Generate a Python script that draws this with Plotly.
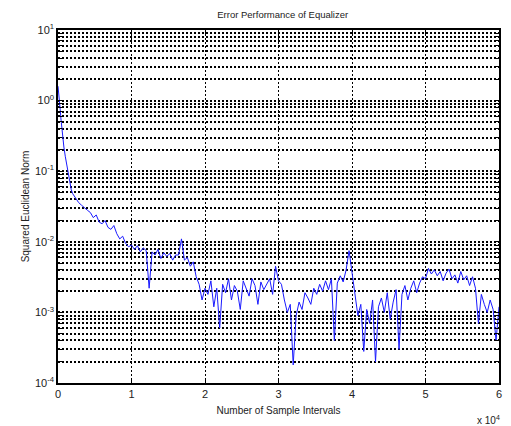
import plotly.graph_objects as go

# x in units of 10^4 sample intervals
x_start = [0, 0.01, 0.02, 0.03, 0.04, 0.05, 0.06, 0.08, 0.10, 0.12, 0.14, 0.16]
y_start = [1.6, 1.3, 1.0, 0.75, 0.55, 0.42, 0.32, 0.22, 0.16, 0.12, 0.085, 0.065]

y_main = [
    0.055, 0.048, 0.041, 0.036, 0.033, 0.030, 0.028,                      # 0.18, 0.20-0.40
    0.026, 0.022, 0.024, 0.019, 0.018, 0.020, 0.016, 0.015, 0.017, 0.013,  # 0.44-0.80
    0.011, 0.012, 0.0095, 0.0085, 0.009, 0.0078, 0.0088, 0.0072, 0.0082, 0.0075,  # 0.84-1.20
    0.0022,                                                                  # 1.24
    0.0072, 0.0065, 0.0078, 0.0058, 0.007, 0.0062, 0.0068, 0.0055, 0.0065,   # 1.28-1.60
    0.0065, 0.011, 0.0055, 0.006, 0.0045, 0.0052, 0.0032, 0.0025, 0.0015, 0.0022,  # 1.64-2.00
    0.0018, 0.0028, 0.0012, 0.0022, 0.0006, 0.0025, 0.0019, 0.0030, 0.0015, 0.0024,  # 2.04-2.40
    0.0020, 0.0011, 0.0028, 0.0022, 0.0017, 0.0030, 0.0024, 0.0013, 0.0027, 0.0021,  # 2.44-2.80
    0.0025, 0.0030, 0.0018, 0.0045, 0.0028,                                  # 2.84-3.00
    0.0025, 0.0015, 0.0010, 0.0013, 0.00018, 0.0009,                         # 3.04-3.24
    0.0014, 0.0011, 0.0019, 0.0016, 0.0013, 0.0022, 0.0018, 0.0025, 0.0020,  # 3.28-3.60
    0.0028, 0.0021, 0.0030, 0.0004, 0.0026, 0.0033, 0.0027, 0.0040, 0.0075,  # 3.64-3.96
    0.0035, 0.0018, 0.0009, 0.0013, 0.00028, 0.0011, 0.0007, 0.0015, 0.0002, 0.0012,  # 4.00-4.36
    0.0016, 0.0010, 0.0019, 0.0008, 0.0014, 0.0021, 0.0003, 0.0018, 0.0024,  # 4.40-4.72
    0.0015, 0.0022, 0.0028, 0.0019, 0.0026, 0.0032, 0.0030,                  # 4.76-5.00
    0.0042, 0.0035, 0.0040, 0.0033, 0.0038, 0.0028, 0.0036, 0.0041, 0.0030,
    0.0034, 0.0026, 0.0038, 0.0029, 0.0033, 0.0024,                          # 5.04-5.60
    0.0032, 0.0022, 0.0007, 0.0018, 0.0013, 0.0010, 0.0015, 0.0011, 0.0004, 0.0012,  # 5.64-6.00
]
x_main = [0.18] + [round(0.20 + 0.04 * (i - 1), 2) for i in range(1, len(y_main))]

x_vals = x_start + x_main
y_vals = y_start + y_main

x_ticks = [0, 1, 2, 3, 4, 5, 6]
decades = [-4, -3, -2, -1, 0, 1]

y_tickvals, y_ticktext = [], []
for d in decades:
    for m in range(1, 10):
        if d == 1 and m > 1:
            break
        y_tickvals.append(m * 10 ** d)
        y_ticktext.append(f"10<sup>{d}</sup>" if m == 1 else "")

fig = go.Figure()
fig.add_trace(go.Scatter(x=x_vals, y=y_vals, mode="lines",
                         line=dict(color="#1a1aff", width=1)))

font = dict(family="Liberation Sans, Arial, sans-serif", color="#222", size=10)

fig.update_layout(
    width=495, height=418,
    margin=dict(l=50, r=4, t=22, b=43),
    paper_bgcolor="white", plot_bgcolor="white",
    showlegend=False,
    font=font,
    title=dict(text="Error Performance of Equalizer", x=0.555, xanchor="center",
               y=0.984, yanchor="middle", font=dict(size=9.5)),
)
fig.update_xaxes(
    range=[0, 6], tickvals=x_ticks, ticktext=[str(t) for t in x_ticks],
    showline=True, linecolor="black", linewidth=1.5, mirror="ticks",
    ticks="inside", ticklen=5, tickcolor="black",
    showgrid=True, gridcolor="black", griddash="2px,2px", gridwidth=1.3,
    zeroline=False, tickfont=dict(size=11), automargin=False,
    title=dict(text="Number of Sample Intervals", font=dict(size=10), standoff=8),
)
fig.update_yaxes(
    type="log", range=[-4, 1], tickvals=y_tickvals, ticktext=y_ticktext,
    showline=True, linecolor="black", linewidth=1.5, mirror="ticks",
    ticks="inside", ticklen=4, tickcolor="black",
    showgrid=True, gridcolor="black", griddash="2px,2px", gridwidth=1.5,
    zeroline=False, tickfont=dict(size=11), automargin=False,
    title=dict(text="Squared Euclidean Norm", font=dict(size=10), standoff=3),
)
fig.add_annotation(text="x 10<sup>4</sup>", xref="paper", yref="paper",
                   x=1.0, y=0.0, yshift=-29, xshift=3, xanchor="right", yanchor="top",
                   showarrow=False, font=dict(size=10))

fig.write_html("out.html")
